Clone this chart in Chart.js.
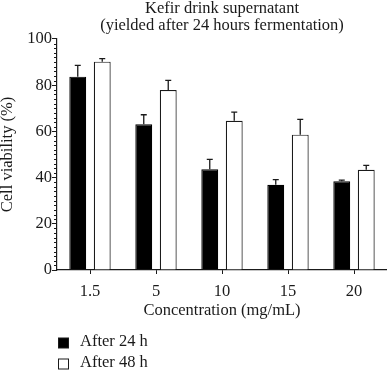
<!DOCTYPE html>
<html>
<head>
<meta charset="utf-8">
<script src="https://cdn.jsdelivr.net/npm/chart.js@4/dist/chart.umd.min.js"></script>
<style>
html,body{margin:0;padding:0;background:#fff;}
#wrap{position:relative;width:387px;height:370px;}
</style>
</head>
<body>
<div id="wrap"><canvas id="c" width="387" height="370"></canvas></div>
<script>
const categories = ['1.5', '5', '10', '15', '20'];
const seriesNames = ['After 24 h', 'After 48 h'];
const after24 = [83.7, 63.1, 43.6, 36.9, 38.4];
const after24Err = [4.9, 4.1, 4.3, 2.2, 0.5];
const after48 = [90.2, 77.9, 64.6, 58.6, 43.4];
const after48Err = [1.3, 4.2, 3.7, 6.6, 1.9];
const yTicks = [0, 20, 40, 60, 80, 100];
const titleLines = ['Kefir drink supernatant', '(yielded after 24 hours fermentation)'];
const xTitle = 'Concentration (mg/mL)';
const yTitle = 'Cell viability (%)';

const FONT = 'Liberation Serif';
const FS = 16.5;
const INK = '#1a1a1a';
Chart.defaults.font.family = FONT;
Chart.defaults.color = INK;

const errorBars = {
  id: 'errorBars',
  afterDatasetsDraw(chart) {
    const ctx = chart.ctx;
    const y = chart.scales.y;
    chart.data.datasets.forEach((ds, di) => {
      const meta = chart.getDatasetMeta(di);
      meta.data.forEach((bar, i) => {
        const v = ds.data[i], e = ds.errors[i];
        const top = y.getPixelForValue(v + e);
        const base = y.getPixelForValue(v);
        ctx.save();
        ctx.strokeStyle = INK;
        ctx.lineWidth = 1.3;
        ctx.beginPath();
        ctx.moveTo(bar.x, base);
        ctx.lineTo(bar.x, top);
        ctx.moveTo(bar.x - 3, top);
        ctx.lineTo(bar.x + 3, top);
        ctx.stroke();
        ctx.restore();
      });
    });
  }
};

const minorTicks = {
  id: 'minorTicks',
  afterDraw(chart) {
    const ctx = chart.ctx;
    const y = chart.scales.y;
    const x0 = chart.chartArea.left;
    ctx.save();
    ctx.strokeStyle = INK;
    ctx.lineWidth = 1;
    ctx.beginPath();
    for (let v = y.min; v <= y.max; v += 2) {
      if (v % 20 === 0) continue;
      const py = Math.round(y.getPixelForValue(v)) + 0.5;
      ctx.moveTo(x0 - 3, py);
      ctx.lineTo(x0, py);
    }
    ctx.stroke();
    ctx.restore();
  }
};

const boxLegend = {
  id: 'boxLegend',
  afterDraw(chart) {
    const ctx = chart.ctx;
    const x0 = chart.chartArea.left + 1;
    const rows = [343, 364];
    ctx.save();
    ctx.font = FS + 'px "' + FONT + '"';
    ctx.textBaseline = 'middle';
    chart.data.datasets.forEach((ds, i) => {
      const cy = rows[i];
      ctx.fillStyle = ds.backgroundColor;
      ctx.fillRect(x0 + 0.5, cy - 5, 10, 10);
      ctx.strokeStyle = INK;
      ctx.lineWidth = 1;
      ctx.strokeRect(x0 + 0.5, cy - 5, 10, 10);
      ctx.fillStyle = INK;
      ctx.fillText(ds.label, x0 + 22, cy - 1);
    });
    ctx.restore();
  }
};

new Chart(document.getElementById('c'), {
  type: 'bar',
  data: {
    labels: categories,
    datasets: [
      { label: seriesNames[0], data: after24, errors: after24Err, backgroundColor: '#000000', borderColor: '#000000', borderWidth: 1.2 },
      { label: seriesNames[1], data: after48, errors: after48Err, backgroundColor: '#ffffff', borderColor: INK, borderWidth: 1.2 }
    ]
  },
  options: {
    responsive: false,
    animation: false,
    events: [],
    categoryPercentage: 0.742,
    barPercentage: 0.69,
    layout: { padding: { top: 0, right: 0, left: 0, bottom: 49 } },
    plugins: {
      legend: { display: false },
      tooltip: { enabled: false },
      title: {
        display: true,
        fullSize: false,
        text: titleLines,
        color: INK,
        font: { size: FS, weight: 'normal', lineHeight: 1.03 },
        padding: { top: 0, bottom: 5 }
      }
    },
    scales: {
      x: {
        grid: { display: true, drawOnChartArea: false, drawTicks: true, tickLength: 4, color: INK, offset: false, lineWidth: 1 },
        border: { display: true, color: INK, width: 1.2 },
        ticks: { color: INK, font: { size: FS }, padding: 8, maxRotation: 0 },
        title: { display: true, text: xTitle, color: INK, font: { size: FS }, padding: 0 },
        afterFit(s) { s.height = 51; }
      },
      y: {
        min: 0, max: 100,
        afterBuildTicks(s) { s.ticks = yTicks.map(v => ({ value: v })); },
        grid: { display: true, drawOnChartArea: false, drawTicks: true, tickLength: 5, color: INK, lineWidth: 1 },
        border: { display: true, color: INK, width: 1.2 },
        ticks: { color: INK, font: { size: FS }, padding: 0 },
        title: { display: true, text: yTitle, color: INK, font: { size: FS }, padding: { top: -2, bottom: 0 } },
        afterFit(s) { s.width = 57; }
      }
    }
  },
  plugins: [errorBars, minorTicks, boxLegend]
});
</script>
</body>
</html>
